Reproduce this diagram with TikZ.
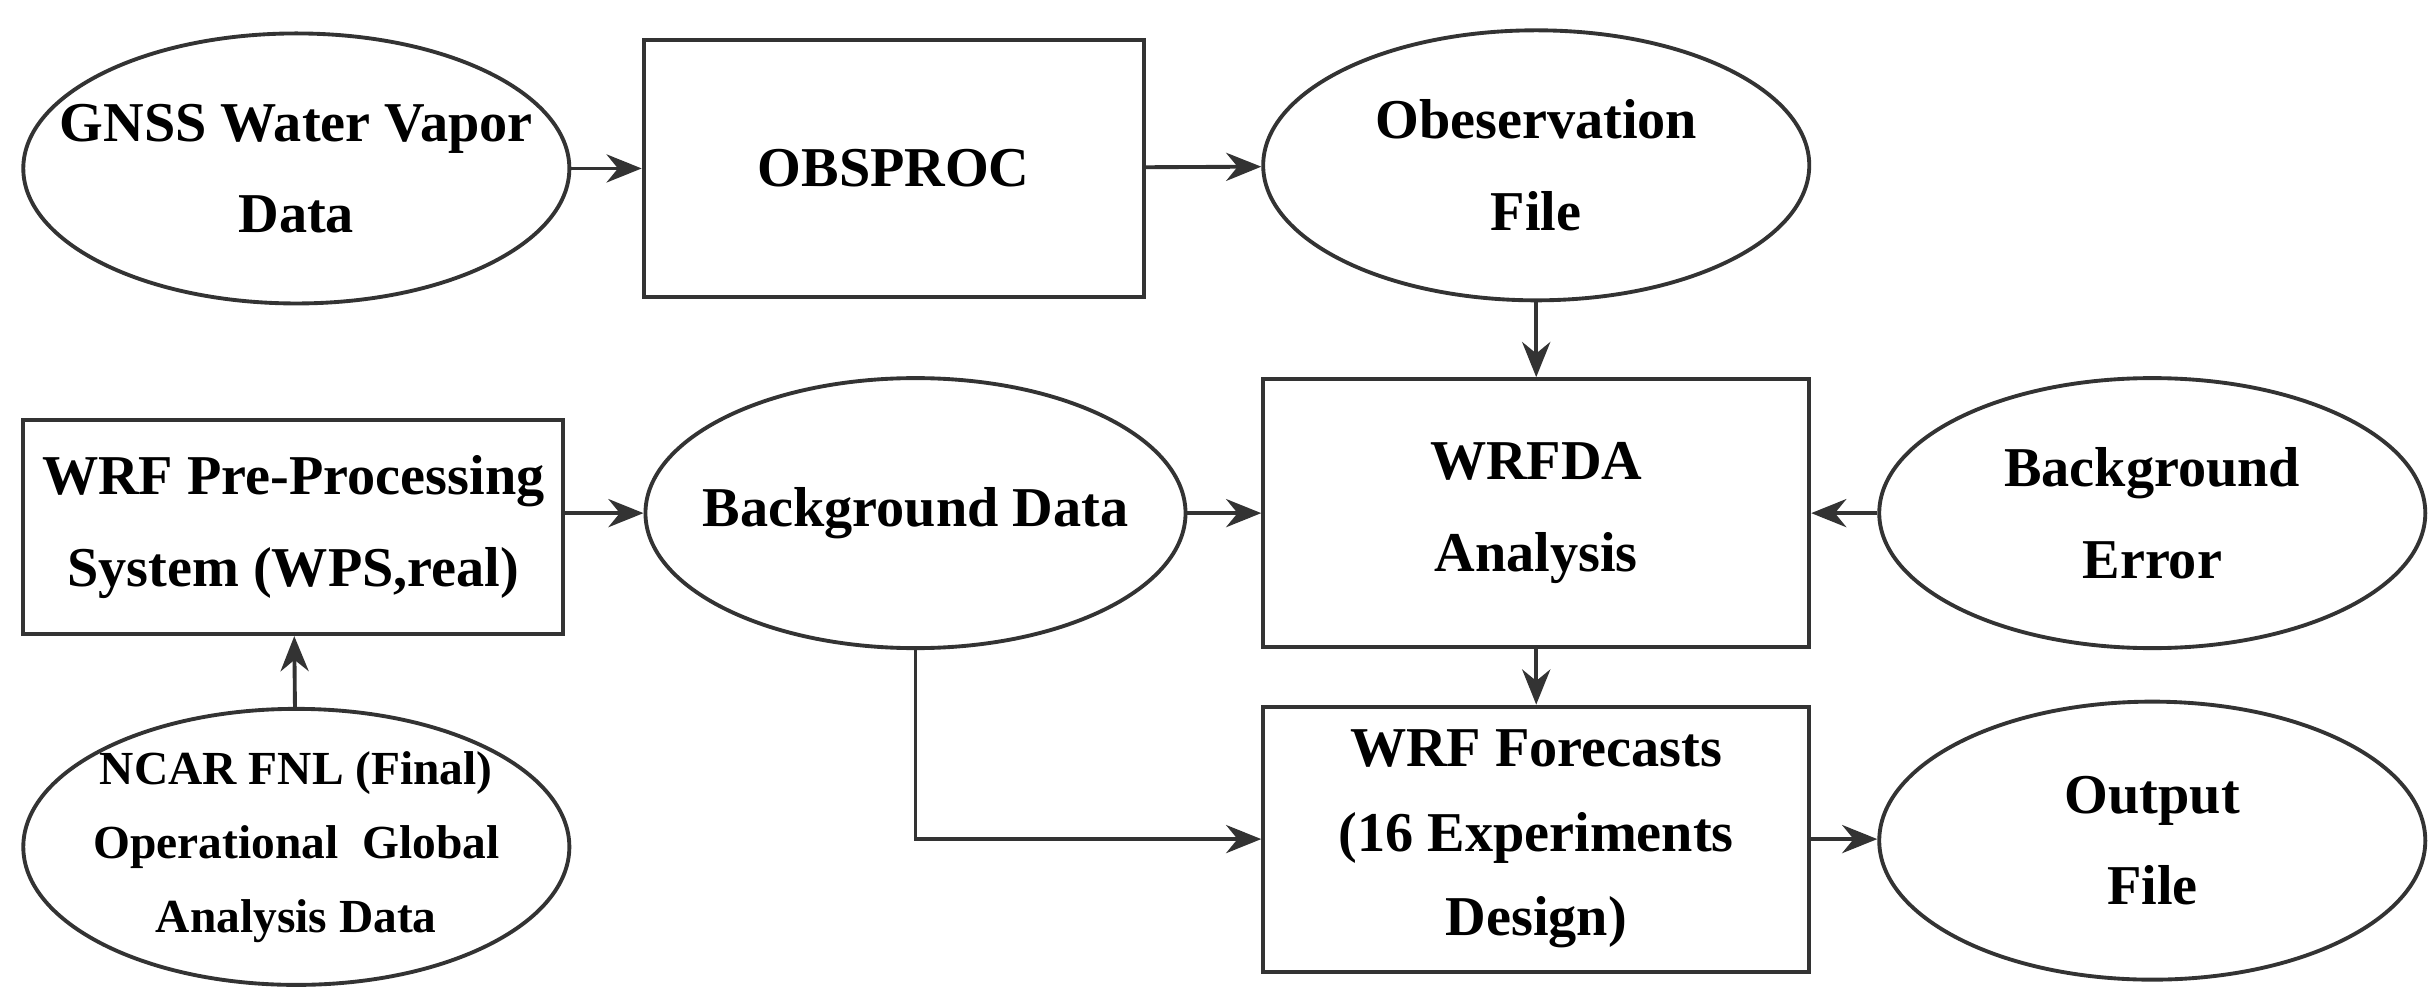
\documentclass[tikz,border=0pt]{standalone}
\usepackage{fontspec}
\setmainfont{Liberation Serif}
\usetikzlibrary{arrows.meta,shapes.geometric}
\begin{document}
\begin{tikzpicture}[x=0.0156cm,y=-0.0156cm,
  base/.style={draw=black!80,line width=1.1pt,align=center,font=\fontsize{16}{26}\selectfont\bfseries,inner sep=0pt},
  ell/.style={base,ellipse,minimum width=5.46cm,minimum height=2.7cm,inner xsep=-0.65cm},
  box/.style={base,rectangle,minimum width=5.46cm,minimum height=2.6cm},
  arr/.style={draw=black!80,line width=1.1pt,-{Stealth[length=10pt,width=8pt]}}]
\useasboundingbox (0,0) rectangle (1560,642);
\node[ell] (gnss) at (190,108) {GNSS Water Vapor\\Data};
\node[box,minimum width=5cm,minimum height=2.57cm] (obs) at (573,108) {OBSPROC};
\node[ell] (obf) at (985,106) {Obeservation\\File};
\node[box,minimum width=5.4cm,minimum height=2.14cm] (wps) at (188,338) {WRF Pre-Processing\\System (WPS,real)};
\node[ell,minimum width=5.4cm] (bg) at (587,329) {Background Data};
\node[box,minimum height=2.68cm] (wrfda) at (985,329) {WRFDA\\Analysis};
\node[ell] (bge) at (1380,329) {Background\\Error};
\node[ell,minimum height=2.76cm,font=\fontsize{13.5}{21}\selectfont\bfseries] (ncar) at (190,543) {NCAR FNL (Final)\\Operational~~Global\\Analysis Data};
\node[box,minimum height=2.65cm,font=\fontsize{16}{24}\selectfont\bfseries] (wrff) at (985,538) {WRF Forecasts\\(16 Experiments\\Design)};
\node[ell,minimum height=2.78cm] (out) at (1380,539) {Output\\File};
\draw[arr] (gnss) -- (obs);
\draw[arr] (obs) -- (obf);
\draw[arr] (obf) -- (wrfda);
\draw[arr] (wps.east |- bg) -- (bg);
\draw[arr] (bg) -- (wrfda);
\draw[arr] (bge) -- (wrfda);
\draw[arr] (ncar) -- (wps);
\draw[arr] (wrfda) -- (wrff);
\draw[arr] (bg.south) |- (wrff.west |- 0,538);
\draw[arr] (wrff.east |- 0,538) -- (out.west |- 0,538);
\end{tikzpicture}
\end{document}
